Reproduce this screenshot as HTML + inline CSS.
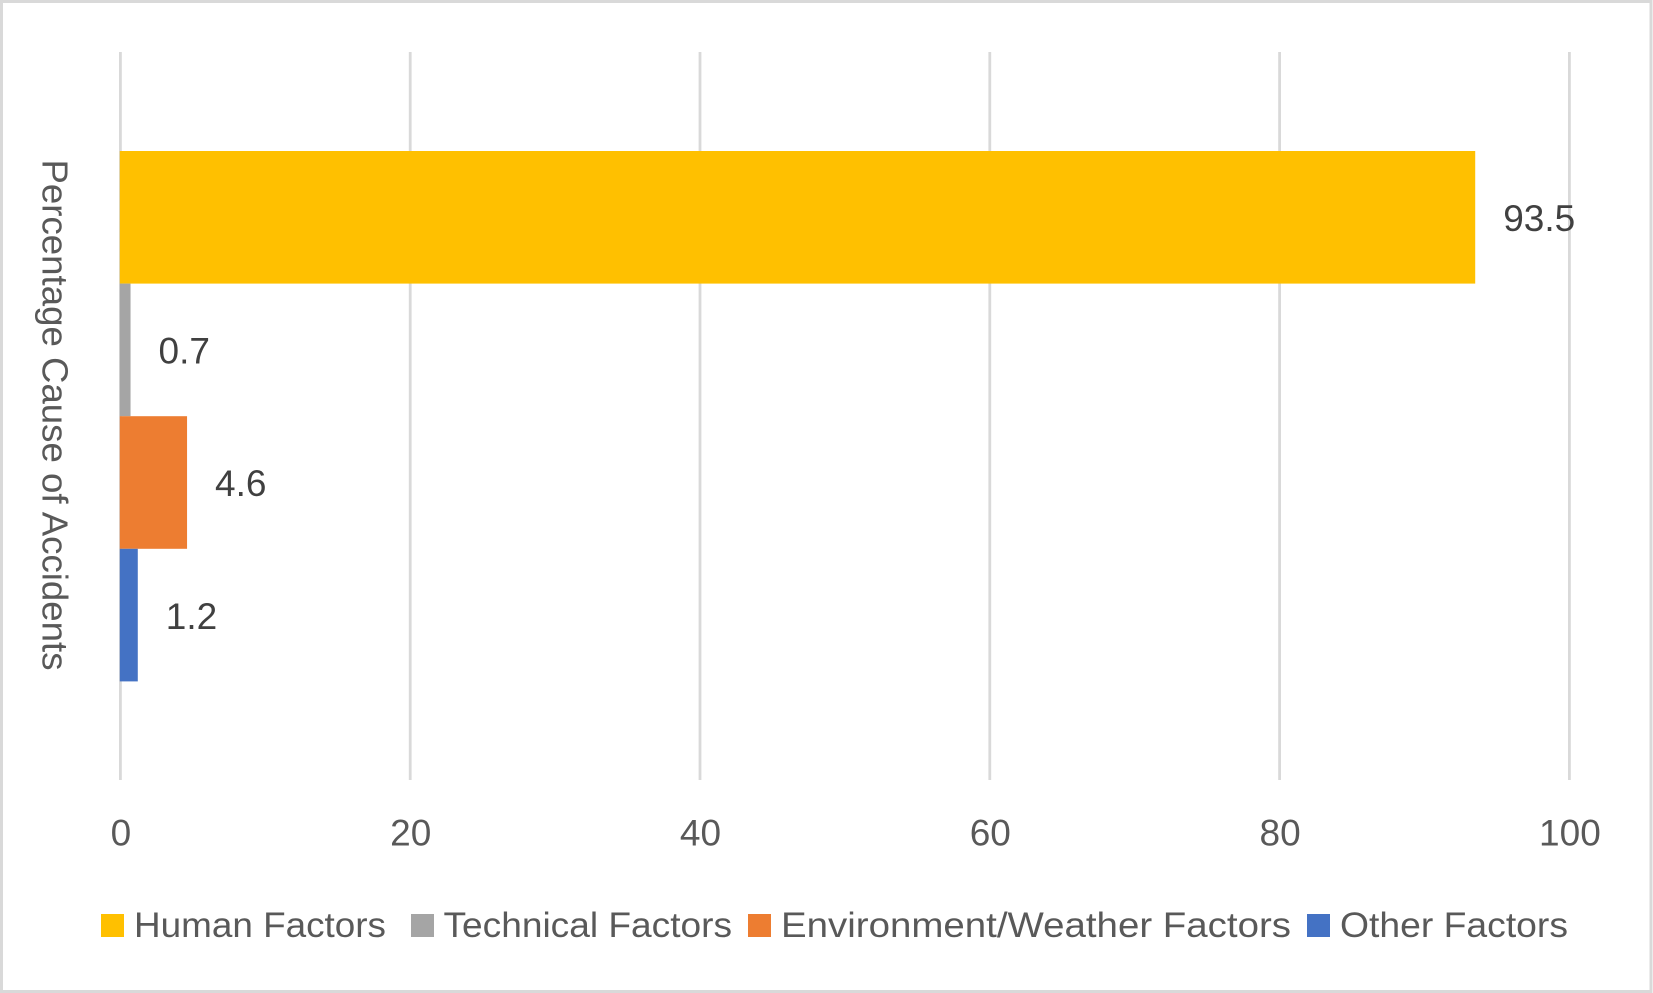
<!DOCTYPE html>
<html lang="en">
<head>
<meta charset="utf-8">
<title>Percentage Cause of Accidents</title>
<style>
  html, body { margin: 0; padding: 0; background: #fff; width: 1653px; height: 993px; overflow: hidden; }
  svg { display: block; }
  text { font-family: "Liberation Sans", sans-serif; }
</style>
</head>
<body>
<svg id="chart" xmlns="http://www.w3.org/2000/svg" width="1653" height="993" viewBox="0 0 1653 993">
  <rect x="1.5" y="1.5" width="1649.5" height="990" fill="#ffffff" stroke="#d9d9d9" stroke-width="3"/>
  <g id="gridlines"></g>
  <g id="bars"></g>
  <g id="tick-labels"></g>
  <g id="value-labels"></g>
  <text transform="translate(42.5,159.5) rotate(90)" font-size="36" fill="#595959" textLength="511" lengthAdjust="spacingAndGlyphs">Percentage Cause of Accidents</text>
  <g font-size="35" fill="#595959">
    <g>
      <rect x="101" y="914" width="23" height="23" fill="#ffc000"/>
      <text x="134" y="937" textLength="252" lengthAdjust="spacingAndGlyphs">Human Factors</text>
    </g>
    <g>
      <rect x="411" y="914" width="23" height="23" fill="#a5a5a5"/>
      <text x="443.5" y="937" textLength="288.5" lengthAdjust="spacingAndGlyphs">Technical Factors</text>
    </g>
    <g>
      <rect x="748" y="914" width="23" height="23" fill="#ed7d31"/>
      <text x="781" y="937" textLength="510" lengthAdjust="spacingAndGlyphs">Environment/Weather Factors</text>
    </g>
    <g>
      <rect x="1307" y="914" width="23" height="23" fill="#4472c4"/>
      <text x="1340" y="937" textLength="228" lengthAdjust="spacingAndGlyphs">Other Factors</text>
    </g>
  </g>
</svg>
<script>
const categories = ["Human Factors", "Technical Factors", "Environment/Weather Factors", "Other Factors"];
const seriesValues = [93.5, 0.7, 4.6, 1.2];
const tickValues = [0, 20, 40, 60, 80, 100];

const barColors = ["#ffc000", "#a5a5a5", "#ed7d31", "#4472c4"];
const SVG_NS = "http://www.w3.org/2000/svg";
const plotLeft = 120.4, plotWidth = 1449, plotTop = 52, plotBottom = 780;
const axisMax = 100, barBand = 132.6;

function xScale(v) { return plotLeft + (v / axisMax) * plotWidth; }
function yScale(i) {
  const pad = ((plotBottom - plotTop) - categories.length * barBand) / 2;
  return plotTop + pad + i * barBand + 0.2;
}
function make(tag, attrs, parent, content) {
  const el = document.createElementNS(SVG_NS, tag);
  for (const k in attrs) el.setAttribute(k, attrs[k]);
  if (content !== undefined) el.textContent = content;
  parent.appendChild(el);
  return el;
}
function slug(s) { return s.toLowerCase().replace(/[^a-z]+/g, "-"); }

const gridGroup = document.getElementById("gridlines");
const tickGroup = document.getElementById("tick-labels");
tickValues.forEach(function (t) {
  const line = make("line", { x1: xScale(t), x2: xScale(t), y1: plotTop, y2: plotBottom, stroke: "#d9d9d9", "stroke-width": 2.8 }, gridGroup);
  
  
  const label = make("text", { transform: "translate(" + (xScale(t) + 0.5) + ",845.5)", "text-anchor": "middle", "font-size": 37, fill: "#595959" }, tickGroup, String(t));
  
  
});

const barGroup = document.getElementById("bars");
const valueGroup = document.getElementById("value-labels");
seriesValues.forEach(function (v, i) {
  const top = yScale(i);
  const bar = make("rect", { x: xScale(0) - 0.6, y: top, width: xScale(v) - xScale(0) + 0.6, height: barBand, fill: barColors[i] }, barGroup);
  
  
  const label = make("text", { transform: "translate(" + (xScale(v) + 28) + "," + (top + 80) + ")", "font-size": 37, fill: "#404040" }, valueGroup, v.toFixed(1));
  
  
});
</script>
</body>
</html>
